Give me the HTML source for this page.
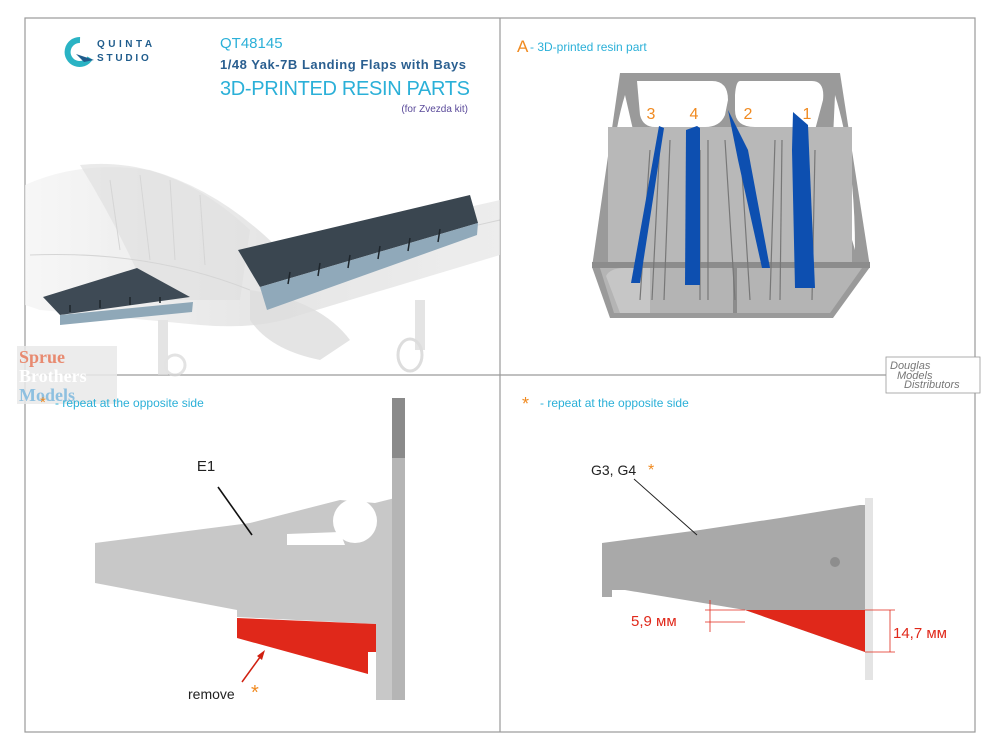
<!DOCTYPE html>
<html><head><meta charset="utf-8"><style>
html,body{margin:0;padding:0;background:#fff;}
svg{display:block;}
text{font-family:"Liberation Sans",Arial,sans-serif;}
</style></head><body>
<svg width="1000" height="750" viewBox="0 0 1000 750" xmlns="http://www.w3.org/2000/svg">
<defs>
<linearGradient id="ghost" x1="0" y1="0" x2="1" y2="0">
<stop offset="0" stop-color="#f4f4f4"/><stop offset="0.5" stop-color="#dcdcdc"/><stop offset="1" stop-color="#e6e6e6"/>
</linearGradient>
</defs>
<rect x="0" y="0" width="1000" height="750" fill="#fff"/>
<!-- frame -->
<rect x="25" y="18" width="950" height="714" fill="none" stroke="#9a9a9a" stroke-width="1.2"/>
<line x1="500" y1="18" x2="500" y2="732" stroke="#9a9a9a" stroke-width="1.2"/>
<line x1="25" y1="375" x2="975" y2="375" stroke="#9a9a9a" stroke-width="1.2"/>

<!-- logo -->
<path d="M80 40 a12 12 0 1 0 10 18" fill="none" stroke="#2ab3c4" stroke-width="6"/>
<path d="M76 54 l18 6 l-10 2 z" fill="#1f5c8c"/>
<text x="97" y="47" font-size="10" font-weight="bold" fill="#1f5c8c" letter-spacing="3.5">QUINTA</text>
<text x="97" y="61" font-size="10" font-weight="bold" fill="#1f5c8c" letter-spacing="2.8">STUDIO</text>

<!-- titles -->
<text x="220" y="48" font-size="15" fill="#2bb0d8">QT48145</text>
<text x="220" y="69" font-size="13" font-weight="bold" fill="#2a5f90" textLength="246">1/48 Yak-7B Landing Flaps with Bays</text>
<text x="220" y="95" font-size="20" fill="#2bb0d8" textLength="250">3D-PRINTED RESIN PARTS</text>
<text x="468" y="112" font-size="10" fill="#5a4a9a" text-anchor="end">(for Zvezda kit)</text>

<!-- aircraft ghost -->
<g opacity="0.7">
<path d="M25 185 Q80 160 150 170 Q220 190 280 250 L500 200 L500 255 L300 315 Q260 330 200 325 L40 310 L25 305 Z" fill="url(#ghost)"/>
<path d="M80 165 Q170 155 250 230 L240 300 L150 300 Q120 230 80 165 Z" fill="#d4d4d4" opacity="0.7"/>
<path d="M250 290 Q320 300 350 340 L320 360 Q270 350 250 320 Z" fill="#cfcfcf" opacity="0.8"/>
<g stroke="#c4c4c4" stroke-width="1" fill="none">
<line x1="110" y1="180" x2="120" y2="250"/><line x1="140" y1="175" x2="150" y2="260"/><line x1="170" y1="180" x2="175" y2="260"/><line x1="200" y1="195" x2="205" y2="265"/>
<path d="M30 255 Q150 250 250 290"/><path d="M280 270 L500 220"/>
</g>
<rect x="158" y="320" width="10" height="55" fill="#dadada"/>
<rect x="415" y="300" width="10" height="50" fill="#dadada"/>
<ellipse cx="410" cy="355" rx="12" ry="16" fill="none" stroke="#cfcfcf" stroke-width="3"/>
<ellipse cx="175" cy="365" rx="10" ry="10" fill="none" stroke="#d8d8d8" stroke-width="3"/>
</g>
<!-- flaps -->
<polygon points="43,297 137,268 190,297 60,315" fill="#3e4a55"/>
<polygon points="60,315 193,302 192,312 60,325" fill="#8fa8b8"/>
<polygon points="238,250 470,195 478,223 260,287" fill="#3a4650"/>
<polygon points="260,287 478,223 477,235 267,310" fill="#90a9ba"/>
<g stroke="#1e262c" stroke-width="1.5">
<line x1="290" y1="272" x2="288" y2="284"/><line x1="320" y1="263" x2="318" y2="276"/><line x1="350" y1="255" x2="348" y2="268"/><line x1="380" y1="246" x2="378" y2="259"/><line x1="410" y1="238" x2="408" y2="251"/><line x1="440" y1="229" x2="438" y2="242"/>
<line x1="70" y1="305" x2="70" y2="312"/><line x1="100" y1="300" x2="100" y2="308"/><line x1="130" y1="297" x2="130" y2="305"/><line x1="160" y1="297" x2="160" y2="303"/>
</g>

<!-- sprue watermark -->
<rect x="17" y="346" width="100" height="58" fill="#e9e9e9" opacity="0.85"/>
<text x="19" y="363" font-size="18" font-weight="bold" fill="#e88a70" style="font-family:'Liberation Serif',serif">Sprue</text>
<text x="19" y="382" font-size="18" font-weight="bold" fill="#fff" style="font-family:'Liberation Serif',serif">Brothers</text>
<text x="19" y="401" font-size="18" font-weight="bold" fill="#8ec0e0" style="font-family:'Liberation Serif',serif">Models</text>

<!-- top right -->
<text x="517" y="52" font-size="17" fill="#f08a20">A</text>
<text x="530" y="51" font-size="12" fill="#2bb0d8">- 3D-printed resin part</text>
<!-- tray -->
<path d="M620 73 L840 73 L870 267 L833 318 L610 318 L592 267 Z" fill="#9a9a9a"/>
<path d="M637 81 L712 81 Q728 81 728 100 L725 115 Q720 127 705 127 L655 127 Q643 127 640 115 Z" fill="#fff"/>
<path d="M740 81 L812 81 Q825 81 823 100 L815 130 L755 127 Q735 127 735 110 L735 95 Q736 81 740 81 Z" fill="#fff"/>
<path d="M625 95 Q605 160 615 250 Q630 200 640 160 Z" fill="#fff"/>
<path d="M835 95 Q855 160 855 250 Q840 200 832 160 Z" fill="#fff"/>
<rect x="608" y="127" width="244" height="138" fill="#b8b8b8"/>
<path d="M600 268 L862 268 L830 313 L614 313 Z" fill="#b4b4b4"/>
<path d="M606 276 Q610 268 625 268 L650 268 L650 313 L620 313 Z" fill="#c6c6c6"/>
<rect x="592" y="262" width="278" height="6" fill="#8c8c8c"/>
<line x1="735" y1="268" x2="735" y2="313" stroke="#8c8c8c" stroke-width="4"/>
<g stroke="#777" stroke-width="1.2">
<line x1="650" y1="150" x2="640" y2="300"/><line x1="660" y1="140" x2="652" y2="300"/><line x1="670" y1="140" x2="664" y2="300"/><line x1="700" y1="150" x2="700" y2="300"/><line x1="708" y1="140" x2="708" y2="300"/><line x1="725" y1="140" x2="735" y2="300"/><line x1="740" y1="140" x2="750" y2="300"/><line x1="775" y1="140" x2="770" y2="300"/><line x1="782" y1="140" x2="780" y2="300"/><line x1="815" y1="150" x2="812" y2="300"/>
</g>
<polygon points="659,126 664,128 640,283 631,283" fill="#0d4fb0"/>
<polygon points="697,126 700,128 700,285 685,285 686,130" fill="#0d4fb0"/>
<polygon points="728,110 748,150 770,268 762,268 738,160" fill="#0d4fb0"/>
<polygon points="793,112 808,125 815,288 795,288 792,150" fill="#0d4fb0"/>
<text x="651" y="119" font-size="16" fill="#f08a20" text-anchor="middle">3</text>
<text x="694" y="119" font-size="16" fill="#f08a20" text-anchor="middle">4</text>
<text x="748" y="119" font-size="16" fill="#f08a20" text-anchor="middle">2</text>
<text x="807" y="119" font-size="16" fill="#f08a20" text-anchor="middle">1</text>

<!-- douglas -->
<rect x="886" y="357" width="94" height="36" fill="#fff" stroke="#999" stroke-width="0.8"/>
<text x="890" y="369" font-size="11" fill="#777" style="font-style:italic">Douglas</text>
<text x="897" y="379" font-size="11" fill="#777" style="font-style:italic">Models</text>
<text x="904" y="388" font-size="11" fill="#777" style="font-style:italic">Distributors</text>

<!-- bottom left -->
<text x="40" y="407" font-size="15" fill="#f08a20">*</text>
<text x="55" y="407" font-size="12" fill="#2bb0d8">- repeat at the opposite side</text>
<polygon points="95,543 250,523 340,500 375,503 395,498 395,700 376,700 376,624 237,617 237,610 95,583" fill="#c8c8c8"/>
<ellipse cx="355" cy="521" rx="22" ry="22" fill="#fff"/>
<polygon points="287,534 340,532 345,545 287,545" fill="#fff"/>
<rect x="392" y="398" width="13" height="302" fill="#b5b5b5"/>
<rect x="392" y="398" width="13" height="60" fill="#8a8a8a"/>
<polygon points="237,618 376,624 376,652 368,652 368,674 237,638" fill="#e0281a"/>
<text x="206" y="471" font-size="15" fill="#222" text-anchor="middle">E1</text>
<line x1="218" y1="487" x2="252" y2="535" stroke="#111" stroke-width="1.6"/>
<line x1="242" y1="682" x2="263" y2="653" stroke="#d02010" stroke-width="1.5"/>
<polygon points="265,650 262,660 257,656" fill="#d02010"/>
<text x="188" y="699" font-size="14" fill="#222">remove</text>
<text x="251" y="699" font-size="20" fill="#f08a20">*</text>

<!-- bottom right -->
<text x="522" y="410" font-size="18" fill="#f08a20">*</text>
<text x="540" y="407" font-size="12" fill="#2bb0d8">- repeat at the opposite side</text>
<polygon points="602,543 700,530 780,518 860,505 865,505 865,652 745,610 625,590 612,590 612,597 602,597" fill="#a9a9a9"/>
<rect x="865" y="498" width="8" height="182" fill="#e4e4e4"/>
<circle cx="835" cy="562" r="5" fill="#8d8d8d"/>
<polygon points="745,610 865,610 865,652" fill="#e0281a"/>
<text x="591" y="475" font-size="14" fill="#222">G3, G4</text>
<text x="648" y="475" font-size="16" fill="#f08a20">*</text>
<line x1="634" y1="479" x2="697" y2="535" stroke="#222" stroke-width="1"/>
<g stroke="#e0281a" stroke-width="0.8" fill="none">
<line x1="710" y1="600" x2="710" y2="632"/><line x1="705" y1="610" x2="745" y2="610"/><line x1="705" y1="622" x2="745" y2="622"/>
<line x1="890" y1="610" x2="890" y2="652"/><line x1="865" y1="610" x2="895" y2="610"/><line x1="865" y1="652" x2="895" y2="652"/>
</g>
<text x="631" y="626" font-size="15" fill="#e0281a">5,9 мм</text>
<text x="893" y="638" font-size="15" fill="#e0281a">14,7 мм</text>
</svg>
</body></html>
